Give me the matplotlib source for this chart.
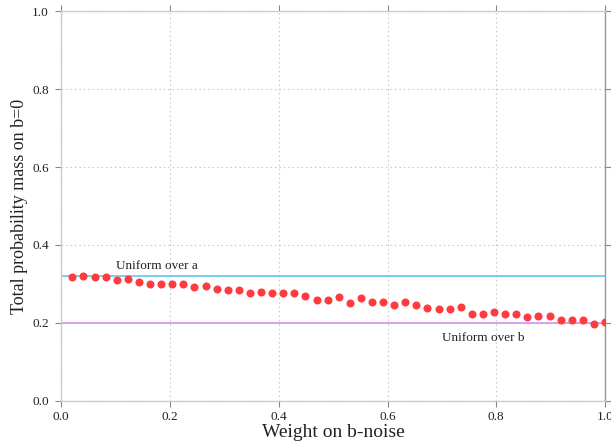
import matplotlib
matplotlib.use("Agg")
import matplotlib.pyplot as plt

weights = [0.0204, 0.0408, 0.0612, 0.0816, 0.1020, 0.1224, 0.1429, 0.1633, 0.1837, 0.2041,
           0.2245, 0.2449, 0.2653, 0.2857, 0.3061, 0.3265, 0.3469, 0.3673, 0.3878, 0.4082,
           0.4286, 0.4490, 0.4694, 0.4898, 0.5102, 0.5306, 0.5510, 0.5714, 0.5918, 0.6122,
           0.6327, 0.6531, 0.6735, 0.6939, 0.7143, 0.7347, 0.7551, 0.7755, 0.7959, 0.8163,
           0.8367, 0.8571, 0.8776, 0.8980, 0.9184, 0.9388, 0.9592, 0.9796, 1.0]
mass_b0 = [0.317, 0.320, 0.317, 0.317, 0.309, 0.313, 0.304, 0.299, 0.299, 0.299,
           0.299, 0.293, 0.296, 0.288, 0.285, 0.285, 0.278, 0.280, 0.278, 0.276,
           0.276, 0.268, 0.260, 0.260, 0.266, 0.251, 0.265, 0.254, 0.254, 0.246,
           0.254, 0.246, 0.238, 0.236, 0.236, 0.240, 0.224, 0.224, 0.228, 0.224,
           0.222, 0.215, 0.217, 0.217, 0.208, 0.207, 0.208, 0.197, 0.202]
uniform_a = 0.32
uniform_b = 0.2
ticks = [0.0, 0.2, 0.4, 0.6, 0.8, 1.0]
tick_labels = ["0.0", "0.2", "0.4", "0.6", "0.8", "1.0"]

plt.rcParams['font.family'] = ['Liberation Serif', 'DejaVu Serif']

fig = plt.figure(figsize=(6.11, 4.44), dpi=100)
ax = fig.add_axes([0.1003, 0.097, 0.8899, 0.878])

ax.axhline(uniform_a, color='#5cc8f2', lw=1.2, zorder=2)
ax.axhline(uniform_b, color='#d28ff0', lw=1.2, zorder=2)
ax.plot(weights, mass_b0, 'o', color='#ff3b3f', markersize=5.8, markeredgewidth=0, zorder=3)

ax.text(0.10, 0.332, "Uniform over a", fontsize=9.5, ha='left', va='bottom', color='#222222')
ax.text(0.70, 0.176, "Uniform over b", fontsize=9.5, ha='left', va='top', color='#222222')

ax.set_xlim(0, 1)
ax.set_ylim(0, 1)
ax.set_xticks(ticks)
ax.set_xticklabels(tick_labels)
ax.set_yticks(ticks)
ax.set_yticklabels(tick_labels)
ax.tick_params(axis='both', which='both', direction='out', length=4, width=0.8,
               color='#888888', labelsize=9.5, labelcolor='#222222',
               top=True, right=True)
ax.tick_params(axis='x', pad=3)
ax.tick_params(axis='y', pad=5)
ax.grid(True, linestyle=(0, (1.5, 2.5)), color='#cccccc', lw=0.8)
ax.set_axisbelow(True)
for side in ['left', 'bottom', 'top']:
    ax.spines[side].set_color('#cccccc')
    ax.spines[side].set_linewidth(1.0)
ax.spines['right'].set_color('#999999')
ax.spines['right'].set_linewidth(1.0)

ax.set_xlabel("Weight on b-noise", fontsize=14, color='#222222', labelpad=1)
ax.set_ylabel("Total probability mass on b=0", fontsize=13, color='#222222', labelpad=3)

fig.savefig("out.png", dpi=100)
